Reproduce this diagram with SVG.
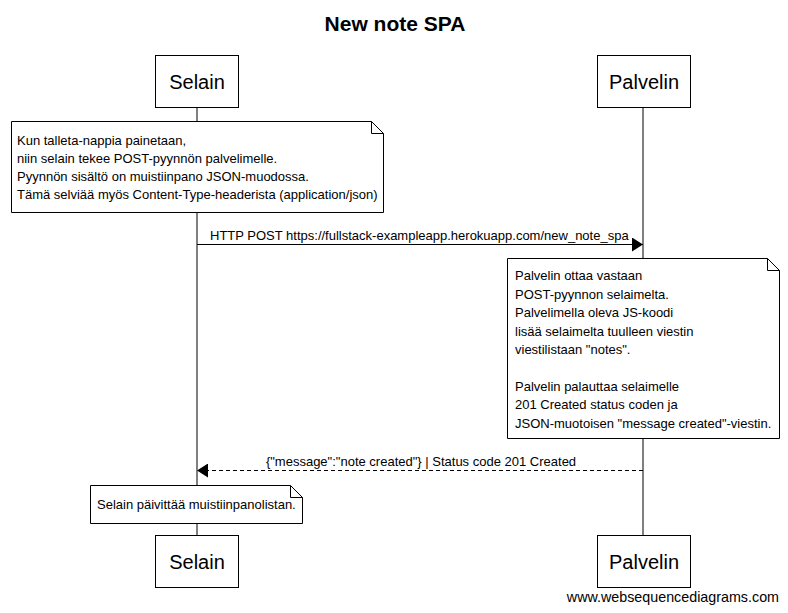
<svg xmlns="http://www.w3.org/2000/svg" width="788" height="613" viewBox="0 0 788 613">
<defs>
<marker id="ah" markerWidth="11" markerHeight="14" refX="11" refY="7" orient="auto" markerUnits="userSpaceOnUse">
<path d="M0,0 L11,7 L0,14 Z" fill="#000"/>
</marker>
</defs>
<style>
text{font-family:"Liberation Sans",Arial,sans-serif;fill:#000}
.box{fill:#fff;stroke:#000;stroke-width:1}
.life{stroke:#000;stroke-width:1}
.part{font-size:20px;text-anchor:middle}
.note{font-size:13px}
.lbl{font-size:13px}
.title{font-size:21px;font-weight:bold;text-anchor:middle}
</style>
<rect width="788" height="613" fill="#fff"/>
<text class="title" x="395" y="31">New note SPA</text>
<g id="lifelines">
<line class="life" x1="197" y1="108" x2="197" y2="536"/>
<line class="life" x1="643" y1="108" x2="643" y2="536"/>
</g>
<g id="selain-top"><rect class="box" x="155.5" y="55.5" width="83" height="52"/><text class="part" x="197" y="89">Selain</text></g>
<g id="palvelin-top"><rect class="box" x="597.5" y="55.5" width="93" height="52"/><text class="part" x="644" y="89">Palvelin</text></g>
<g id="selain-bottom"><rect class="box" x="155.5" y="535.5" width="83" height="52"/><text class="part" x="197" y="569">Selain</text></g>
<g id="palvelin-bottom"><rect class="box" x="597.5" y="535.5" width="93" height="52"/><text class="part" x="644" y="569">Palvelin</text></g>
<g id="note1">
<path class="box" d="M11.5,121.5 H371.5 L383.5,133.5 V212.5 H11.5 Z"/>
<path d="M371.5,121.5 V133.5 H383.5" fill="none" stroke="#000"/>
<text class="note" x="17" y="145">Kun talleta-nappia painetaan,</text>
<text class="note" x="17" y="163">niin selain tekee POST-pyynnön palvelimelle.</text>
<text class="note" x="17" y="181">Pyynnön sisältö on muistiinpano JSON-muodossa.</text>
<text class="note" x="17" y="199">Tämä selviää myös Content-Type-headerista (application/json)</text>
</g>
<g id="note2">
<path class="box" d="M507.5,258.5 H767.5 L779.5,270.5 V438.5 H507.5 Z"/>
<path d="M767.5,258.5 V270.5 H779.5" fill="none" stroke="#000"/>
<text class="note" x="515" y="280">Palvelin ottaa vastaan</text>
<text class="note" x="515" y="299">POST-pyynnon selaimelta.</text>
<text class="note" x="515" y="317">Palvelimella oleva JS-koodi</text>
<text class="note" x="515" y="336">lisää selaimelta tuulleen viestin</text>
<text class="note" x="515" y="354">viestilistaan "notes".</text>
<text class="note" x="515" y="391">Palvelin palauttaa selaimelle</text>
<text class="note" x="515" y="409">201 Created status coden ja</text>
<text class="note" x="515" y="428">JSON-muotoisen "message created"-viestin.</text>
</g>
<g id="note3">
<path class="box" d="M90.5,485.5 H290.5 L302.5,497.5 V523.5 H90.5 Z"/>
<path d="M290.5,485.5 V497.5 H302.5" fill="none" stroke="#000"/>
<text class="note" x="97" y="509">Selain päivittää muistiinpanolistan.</text>
</g>
<g id="connectors">
<line x1="197" y1="244.5" x2="643" y2="244.5" stroke="#000" marker-end="url(#ah)"/>
<text class="lbl" x="210" y="240">HTTP POST https://fullstack-exampleapp.herokuapp.com/new_note_spa</text>
<line x1="643" y1="470.5" x2="197" y2="470.5" stroke="#000" stroke-dasharray="4,3" marker-end="url(#ah)"/>
<text class="lbl" x="421" y="466" text-anchor="middle">{"message":"note created"} | Status code 201 Created</text>
</g>
<text x="779" y="602" font-size="14.3" text-anchor="end">www.websequencediagrams.com</text>
</svg>
